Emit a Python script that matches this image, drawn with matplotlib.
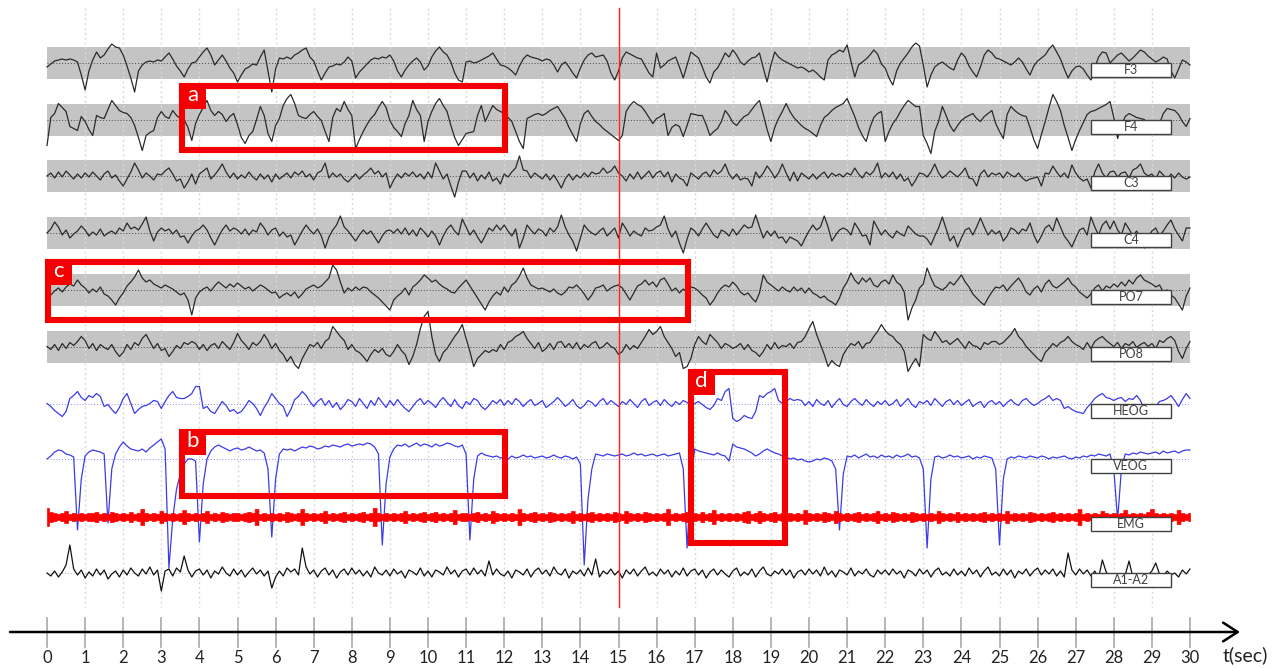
import numpy as np
import matplotlib
matplotlib.use("Agg")
import matplotlib.pyplot as plt
from matplotlib.patches import Rectangle

plt.rcParams["font.family"] = ["Lato", "DejaVu Sans"]

# ---------- recording: 30 s epoch, 10 samples / s, amplitude in screen px (up = +) ----------
FS = 10
CHANNELS = ["F3", "F4", "C3", "C4", "PO7", "PO8", "HEOG", "VEOG", "EMG", "A1-A2"]

F3 = """
-4 -1 2 3 4 3 4 3 1 -12   -27 -8 3 11 5 8 14 19 16 15   8 -3 -15 -29 -8 -2 1 2 1 3
2 6 10 4 -3 -8 -14 -6 0 1   6 11 15 8 -2 3 8 2 -5 -10   -19 -12 -6 -4 -1 -2 6 13 -8 -29
-6 5 4 6 4 8 10 13 15 6   2 -8 -17 -10 -4 -3 -1 -2 1 6   2 -15 -9 -5 -1 3 5 4 6 5
8 2 -8 -14 -7 -2 2 5 1 -7   -3 6 12 16 11 8 1 -10 -17 -19   1 2 0 1 3 5 7 10 4 -2
-3 -5 -8 -12 -3 4 8 6 5 4   2 4 3 -2 -9 -2 1 -4 -10 -15   -5 3 8 10 6 7 8 2 -10 -17
-8 5 11 9 7 5 4 -3 -10 -14   10 -5 -2 2 4 6 -4 -15 -2 11   8 5 -4 -14 -20 -9 -5 2 10 6
13 8 1 -2 2 5 6 10 -5 -19   -2 11 6 3 1 -1 -3 -5 -4 -6   -9 -7 -10 -14 -17 3 8 10 13 11
18 2 -14 -2 1 4 8 13 9 -1   -5 -15 -22 -8 0 5 10 16 20 17   -2 -24 -12 -4 -1 1 -2 -5 -7 3
10 6 -3 -9 -14 -4 8 13 10 5   4 2 0 -2 1 5 1 -6 -12 -3   2 5 8 14 18 11 4 -6 -15 -8
-4 -3 -6 -12 -17 -5 6 11 10 0   4 8 10 6 2 5 9 13 11 7   4 1 3 6 4 -8 -15 -6 3 1
-2
"""

F4 = """
-26 2 6 16 12 8 -7 -9 -11 3   -2 -10 -16 4 2 1 10 19 14 9   7 6 2 -6 -18 -31 -16 -13 -11 2
8 3 1 9 4 1 0 -8 -21 -4   5 12 19 9 4 8 5 -2 3 6   -5 -18 -24 -16 -12 0 13 4 -14 -22
-6 1 14 21 25 16 4 2 1 5   8 3 -1 -12 -22 2 11 8 18 10   4 -29 -20 -12 -5 1 5 12 18 12
-1 -8 -12 -17 -4 4 19 10 4 -22   -2 8 16 21 14 8 -6 -18 -26 -20   -14 -13 -12 4 14 -2 6 14 10 8
6 2 -2 -12 -22 -29 1 3 5 6   4 6 9 11 13 7 1 -8 -15 -22   -4 6 9 3 -2 -5 -9 -12 -15 -18
-21 -16 8 14 18 15 13 8 2 -4   1 3 6 -16 -8 -5 -7 -17 -6 6   5 4 4 -5 -16 -12 -9 -2 9 4
-3 -6 -1 3 5 10 15 19 5 -10   -22 -8 1 8 16 8 2 -2 -6 -9   -11 -14 -17 -6 2 5 9 12 14 16
21 12 3 -8 -16 -22 -8 2 6 8   -22 -12 -4 1 8 14 19 16 13 13   -16 -24 -34 -12 -2 13 4 -6 -12 -6
-1 2 4 6 1 -2 3 6 9 -4   -12 -19 5 13 9 6 4 3 -8 -20   -29 -15 -2 12 25 18 9 -6 -18 -31
-20 -11 -3 5 8 9 11 13 15 18   2 -19 -6 3 6 4 2 1 0 -5   -10 -15 -4 6 11 10 9 5 -2 -7
1
"""

C3 = """
0 3 -2 4 -1 5 1 -3 2 -2   3 -1 4 0 -4 2 5 -2 1 -5   -10 -3 4 13 6 -2 3 0 -4 2
1 5 8 2 -5 -3 -12 -6 2 -8   2 5 8 -3 1 6 12 4 -2 3   -3 1 -2 4 -1 -4 2 -3 1 -6
2 -3 0 3 -2 4 1 5 -1 2   -4 3 5 13 -2 3 -1 2 -3 -6   -2 2 -3 1 4 8 2 5 -1 3
-12 -4 2 -2 3 0 4 -1 2 -3   4 -2 13 5 -3 2 -10 -21 -6 5   5 -2 3 -5 1 -3 4 -5 -2 -8
2 -1 4 8 20 6 5 -2 3 0   -3 2 -4 1 -5 -12 -3 2 -4 1   -2 3 -1 4 2 3 8 3 5 10
3 0 -5 2 -3 4 -3 1 5 -2   3 5 -1 4 -6 2 -2 -4 -10 3   0 -3 2 4 -1 6 2 5 12 2
-3 2 -4 -2 -3 -10 4 -2 3 10   5 -2 3 12 3 -5 4 -5 3 0   -3 2 -3 1 4 -2 3 0 2 -1
3 1 8 2 -2 4 1 5 13 -2   3 -1 4 -3 2 -5 -2 -10 -4 3   2 -1 4 12 3 -2 1 5 2 -1
3 8 -2 -3 -10 2 6 -1 3 1   3 -2 4 1 -1 3 -2 -5 -3 -2   -1 -10 3 2 10 4 -1 3 -2 11
3 -2 -5 -3 -12 4 12 3 -2 4   5 -1 3 4 -2 6 8 12 3 0   2 -3 5 1 -4 2 -2 3 -1 -3
-1
"""

C4 = """
0 4 11 6 -2 3 -5 -1 2 7   3 -3 1 -2 4 -3 0 2 -1 5   2 10 4 6 3 9 16 2 -8 1
5 2 4 -1 3 -4 -3 -10 -3 2   4 8 3 -5 -12 -4 3 8 2 5   3 -1 4 -2 3 1 10 5 -2 3
5 -3 1 -4 -2 -12 -5 2 8 3   -1 4 -3 -15 -4 3 8 17 6 2   -3 -8 -2 3 -1 2 -4 -10 -3 2
3 0 4 -1 5 -2 3 -3 5 1   -4 2 -3 -12 -3 4 8 2 -2 14   6 -2 3 -4 -10 -3 5 2 8 3
8 2 -3 4 -15 -5 8 3 -1 4   2 -3 5 1 6 18 6 -2 -8 -18   -5 8 3 0 -2 2 5 -3 1 5
-5 10 4 -3 2 -1 -3 5 2 3   6 8 17 4 -4 2 -10 -20 -6 5   2 -3 4 10 4 -2 -5 3 1 -3
4 -2 3 8 5 6 18 6 -5 2   -3 2 -5 -4 -10 -4 -6 -8 -13 -5   2 8 3 6 17 6 -8 -2 3 5
3 -2 10 4 -3 -2 -12 12 5 -2   3 -2 -5 2 -1 -3 7 3 -1 -3   -3 -6 -12 -3 5 16 4 -8 -3 -14
-5 3 5 -2 6 15 6 -2 3 -1   2 -8 -3 5 3 -1 4 2 10 -2   -10 -3 5 8 2 15 6 -3 -8 -14
-5 3 5 -2 16 6 -2 8 12 4   12 3 -2 10 4 -3 2 -5 -15 -4   2 5 -3 2 8 13 4 -2 -8 5
5
"""

PO7 = """
-3 -5 -1 2 -2 3 6 4 10 5   2 -3 1 -2 3 -4 -6 -10 -15 -8   -3 4 8 13 20 12 8 10 6 4
2 5 3 1 -2 -5 -3 -10 -25 -8   -2 1 3 -1 4 8 5 2 6 3   7 4 1 3 -1 2 5 3 0 -3
-2 -8 -5 -3 -6 -2 -8 -4 1 3   5 2 4 8 12 25 20 8 -3 2   -1 3 0 3 2 -2 -5 -8 -12 -16
-20 -10 -6 -3 2 -5 3 6 10 15   12 8 10 6 3 1 -2 -3 2 6   10 4 -2 -8 -14 -20 -12 -6 -2 -5
3 -2 5 8 14 22 12 5 3 1   2 0 -2 1 -3 -5 -2 3 2 5   1 -4 -10 -5 2 3 5 -1 2 4
5 2 -4 -10 -3 4 6 10 5 8   3 10 12 6 -1 2 -3 1 -2 3   2 -1 -5 -8 -15 -10 -3 2 5 3
8 4 -2 -5 -3 -8 -12 -3 15 8   5 2 -1 3 0 -2 3 -1 2 -3   2 -3 -5 -8 -6 -10 -12 -15 -8 2
8 17 10 6 12 8 12 5 3 8   10 6 15 8 5 -2 -30 -18 -10 2   6 22 12 4 2 0 3 8 5 10
15 8 3 -4 -8 -12 -15 -8 -2 3   2 5 -1 4 8 12 6 -2 -5 1   4 -2 6 10 4 2 5 8 12 6
3 -2 -5 -8 -4 2 5 -1 4 2   6 3 8 4 10 6 12 15 10 8   6 3 5 -2 0 -5 -8 -14 -20 -6
2
"""

PO8 = """
0 -3 2 -4 3 -2 4 1 5 10   6 -2 3 -4 2 -1 -3 2 -5 -10   -6 2 -3 4 1 8 12 5 -2 3
-4 -2 -10 -5 1 -2 4 2 5 3   -3 2 -4 1 3 -2 5 1 -3 4   13 6 2 -3 4 1 5 12 6 -2
3 -4 -8 -15 -10 -18 -22 -12 -5 2   0 4 -2 5 8 20 15 10 6 -3   2 -4 -6 -10 -15 -8 -3 -6 -2 -8
-10 -5 2 -4 -8 -18 -10 2 18 30   35 10 -8 -15 -6 -2 4 10 15 22   8 -5 -20 -12 -8 -4 -6 -3 -5 2
-3 4 6 10 12 15 8 3 -2 4   -5 -2 3 -3 4 5 -1 3 -2 4   -3 2 -1 3 5 -2 0 4 0 -2
-8 -5 2 -3 1 -2 4 10 17 12   15 20 10 4 -2 -10 -6 -22 -20 -12   2 10 5 2 12 8 4 -2 3 1
-2 0 3 -3 2 -4 -6 -10 -5 2   -3 4 -2 1 0 3 -2 4 5 10   18 25 12 2 -8 -20 -14 -18 -20 -8
-2 3 1 5 -2 3 4 10 15 22   16 12 10 5 2 -5 -25 -18 -12 -20   12 8 6 15 10 4 6 2 5 8
3 -2 5 1 0 -3 4 2 5 5   2 4 8 12 18 10 6 0 -4 -8   -12 -15 -6 -2 3 0 4 6 10 5
2 0 -3 4 -2 5 8 10 6 3   0 4 -2 3 1 5 -1 2 4 0   3 -2 6 4 8 10 6 -5 -12 -2
5
"""

HEOG = """
0 -3 -7 -10 -13 -8 5 8 12 6   3 8 6 10 7 -3 -1 -6 -10 -4   5 10 0 -10 -6 -3 -2 0 3 2
-5 2 8 12 6 5 5 7 10 17   17 -5 -3 -8 -10 -4 2 -2 -8 -6   -10 -8 -3 3 0 -5 -12 -4 2 10
5 0 -3 -13 -6 4 7 12 8 2   -3 2 5 -2 3 -4 1 -6 -2 4   2 -3 5 0 -5 3 -2 6 1 -4
3 -2 4 -1 -5 -8 -3 2 5 -1   3 0 -4 2 6 1 -3 4 -2 -5   2 -1 5 3 -3 -6 -2 3 0 4
-2 3 -1 5 2 -3 1 4 -2 0   3 -4 -1 2 6 2 -3 0 4 -2   -5 -2 3 1 -3 2 5 -1 3 0
-3 2 -1 4 0 -4 2 5 -2 1   3 -2 4 0 -3 2 -1 3 1 -2   0 2 -1 -4 -6 -2 5 3 12 15
-15 -18 -16 -12 -14 -15 -8 8 6 10   12 15 3 0 2 5 3 4 3 -2   2 -3 4 0 -2 3 -4 1 5 -1
-3 2 5 1 -2 4 0 -3 2 -1   3 -2 0 4 -3 1 5 -1 -4 2   0 3 -2 5 1 -3 2 4 -1 3
-2 1 4 -3 0 2 -4 1 3 -1   2 -3 1 4 0 -2 3 5 1 -2   0 3 5 8 3 5 3 -5 -3 -6
-8 -9 -10 -4 0 5 8 10 6 5   3 5 6 2 5 4 8 3 -6 -12   -8 -3 2 3 5 8 3 -3 4 10
5
"""

VEOG = """
0 3 7 9 8 5 4 2 -71 -20   3 7 9 8 7 5 -64 -10 5 12   17 13 10 9 8 10 7 11 14 17
20 10 -109 -60 -30 -15 -5 0 0 -2   -83 -25 0 8 12 14 12 10 8 10   11 9 10 12 10 8 9 6 -10 -78
-20 5 10 9 10 8 10 12 11 13   12 10 11 13 12 14 13 12 14 15   13 14 15 14 16 15 12 5 -86 -25
2 10 14 13 15 12 14 16 13 15   14 12 15 13 14 16 15 13 12 14   5 -81 -20 3 6 4 3 2 3 1
2 0 3 1 2 4 2 3 1 2   3 1 2 4 2 1 3 2 0 2   -5 -106 -40 -10 5 4 3 5 4 3
4 5 3 4 6 4 5 3 4 5   3 4 5 3 4 5 6 -10 -89 -20   10 8 7 6 5 4 6 4 3 -2
15 12 11 10 8 6 3 5 8 10   8 6 5 3 2 0 1 -1 0 -2   -3 -2 0 -1 1 0 -2 -10 -71 -15
3 2 4 1 3 5 2 3 1 4   2 3 1 4 2 3 5 2 3 1   -10 -89 -20 2 3 1 2 4 2 3
1 2 3 0 2 1 3 2 1 -10   -86 -20 0 2 1 3 2 1 3 2   1 3 2 0 2 1 2 3 1 0
2 1 3 2 4 3 5 4 3 5   -10 -61 -10 5 4 6 5 7 6 5   6 7 5 8 6 7 8 6 8 9
9
"""

# EMG is shown as its rectified envelope (half-height in px)
EMG = """
9543463434 3445343543 4353484343 6434347434 3463435434 4345483434
3435434843 4346343453 4345349434 3434634345 3453434734 4345343643
4343843453 4354343463 4345343435 4364343543 4348343453 4353473434
3435634643 4534343437 4343543643 4345343463 4354343543 4343643435
3434345343 4363434354 3434534343 4834343643 4347343435 8434343743
4
"""

A1A2 = """
0 -3 2 -4 1 8 28 4 -2 3   -5 1 -3 4 -2 3 -6 -1 2 -4   3 -2 5 0 -3 4 -1 6 -2 3
-18 2 4 -3 5 1 17 3 -4 2   4 -2 3 -5 2 -1 6 0 -3 4   -2 3 -4 1 5 -1 3 -3 2 -15
-4 2 -3 5 1 4 -2 25 6 -1   3 -4 2 5 -2 3 -5 1 4 -2   5 -1 3 -3 2 -4 6 0 -2 3
-3 4 -1 2 -5 3 1 -2 5 -3   2 -4 3 1 -2 6 -1 3 -4 2   4 -2 5 -1 3 -3 12 -2 4 -1
-3 2 -5 3 1 -2 4 -4 2 5   -1 3 -3 6 0 -2 4 -5 2 -1   3 -3 5 -2 14 -4 2 -1 4 -2
2 -5 3 -1 4 -3 2 6 -2 1   -3 4 -1 3 -4 2 -2 5 -3 2   4 -2 3 -5 1 4 -2 3 -1 -4
2 5 -3 1 -2 4 -4 2 6 -1   -3 2 -1 4 -2 3 -5 1 3 -2   4 -1 3 -3 6 -2 2 -4 3 1
-2 5 -3 2 -1 4 -2 -4 3 -1   3 -2 4 -1 2 -5 3 1 -3 4   -1 3 -4 2 5 -2 1 -3 4 -2
2 -3 5 -1 3 -4 2 6 -2 1   -3 4 -2 3 -5 2 -1 4 -3 2   5 -2 3 -1 4 -3 2 -4 20 3
-2 4 -1 3 -3 2 -5 13 1 -4   -6 -3 -5 -2 12 -4 -6 -3 -5 -2   2 10 -1 -3 2 -2 0 -4 3 -1
4
"""

TICKS = list(range(0, 31))

# marked segments: (label, t_start, t_end, y_top, y_bottom)
MARKS = [
    ("a", 3.55, 12.02, 86, 150),
    ("b", 3.55, 12.02, 432, 496),
    ("c", 0.03, 16.82, 262, 320),
    ("d", 16.90, 19.37, 372, 543),
]


def parse(s):
    return np.array(s.split(), dtype=float)


def parse_digits(s):
    return np.array([float(c) for c in s if c.isdigit()])


signals = {
    "F3": parse(F3), "F4": parse(F4), "C3": parse(C3), "C4": parse(C4),
    "PO7": parse(PO7), "PO8": parse(PO8), "HEOG": parse(HEOG),
    "VEOG": parse(VEOG), "EMG": parse_digits(EMG), "A1-A2": parse(A1A2),
}

# ---------- layout (screen px, y grows downward) ----------
W, H = 1279, 668
PX = 38.1                 # px per second
X0 = 47                   # px of t = 0
centers = dict(zip(CHANNELS, [63, 119.5, 176, 233, 290, 346.5, 403.5, 459, 517, 573]))
EEG = ["F3", "F4", "C3", "C4", "PO7", "PO8"]

fig = plt.figure(figsize=(W / 100, H / 100), dpi=100)
ax = fig.add_axes([0, 0, 1, 1])
ax.set_xlim(-X0 / PX, (W - X0) / PX)
ax.set_ylim(H, 0)
ax.axis("off")

# grey background bands behind EEG leads
for ch in EEG:
    ax.add_patch(Rectangle((0, centers[ch] - 16), 30, 32, fc="#c4c4c4", ec="none", zorder=1))

# 1 s grid
for k in range(1, 30):
    ax.plot([k, k], [8, 607], color="#d9d9d9", lw=1, ls=(0, (1.5, 2)), zorder=2)

# zero lines
for ch in CHANNELS:
    c = centers[ch]
    if ch in EEG:
        col = "#4a4a4a"
    elif ch in ("HEOG", "VEOG"):
        col = "#8a8aff"
    else:
        col = "#b0b0b0"
    ax.plot([0, 30], [c, c], color=col, lw=0.7, ls=(0, (1, 2)), zorder=3)

# traces
for ch in CHANNELS:
    v = signals[ch]
    t = np.arange(len(v)) / FS
    c = centers[ch]
    if ch == "EMG":
        ax.fill_between(t, c - v, c + v, step="mid", color="#ff0000", lw=0.5, zorder=4)
        continue
    if ch in ("HEOG", "VEOG"):
        col = "#3b3be8"
    elif ch == "A1-A2":
        col = "#111111"
    else:
        col = "#2a2a2a"
    ax.plot(t, c - v, color=col, lw=0.9, zorder=4)

# reference instant
ax.plot([15, 15], [8, 607], color="#ff2020", lw=1, zorder=6)

# lead names
for ch in CHANNELS:
    c = centers[ch]
    ax.add_patch(Rectangle((27.40, c), 2.10, 14, fc="white", ec="#404040", lw=1, zorder=7))
    ax.text(28.45, c + 7.3, ch, ha="center", va="center", fontsize=9, color="#404040", zorder=8)

# highlighted segments
for lab, ta, tb, ya, yb in MARKS:
    ax.add_patch(Rectangle((ta, ya), tb - ta, yb - ya, fill=False, ec="#f40000", lw=4.4, zorder=9))
    ax.add_patch(Rectangle((ta - 3 / PX, ya - 3), 27 / PX, 26, fc="#f40000", ec="none", zorder=10))
    ax.text(ta + 10.5 / PX, ya + 9, lab, ha="center", va="center", fontsize=16, color="white", zorder=11)

# time axis
ax.annotate("", xy=((1240 - X0) / PX, 632), xytext=((10 - X0) / PX, 632),
            arrowprops=dict(arrowstyle="->,head_length=0.7,head_width=0.45", lw=1.8,
                            color="black", mutation_scale=15, shrinkA=0, shrinkB=0))
for k in TICKS:
    ax.plot([k, k], [618, 647], color="#a8a8a8", lw=1.2, zorder=1)
    ax.text(k, 658, str(k), ha="center", va="center", fontsize=12, color="#222222")
ax.text((1223 - X0) / PX, 655, "t(sec)", ha="left", va="center", fontsize=14, color="#222222")

fig.savefig("out.png", dpi=100)
